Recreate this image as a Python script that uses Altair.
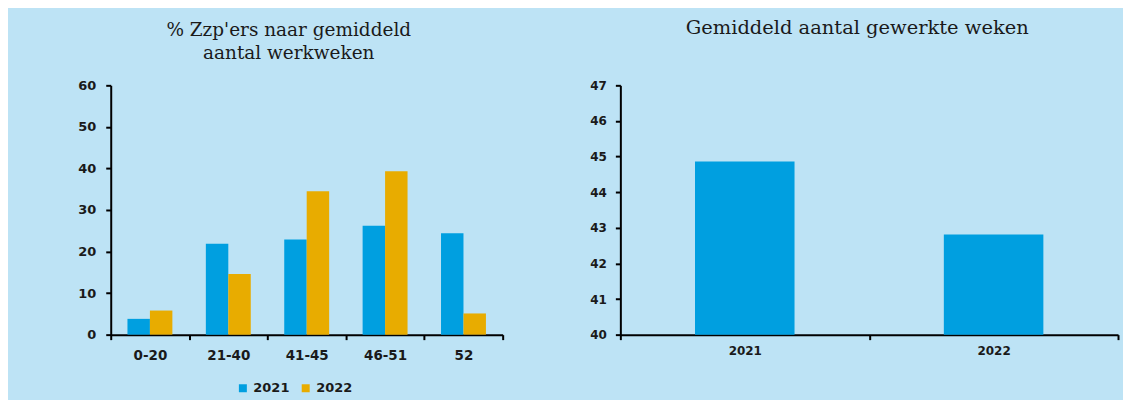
import altair as alt
import pandas as pd

categories = ["0-20", "21-40", "41-45", "46-51", "52"]
years = ["2021", "2022"]
pct_2021 = [3.8, 21.9, 22.9, 26.2, 24.4]
pct_2022 = [5.8, 14.6, 34.5, 39.3, 5.1]
avg_years = ["2021", "2022"]
avg_weeks = [44.86, 42.81]
left_ticks = [0, 10, 20, 30, 40, 50, 60]
right_ticks = [40, 41, 42, 43, 44, 45, 46, 47]

BG = "#BDE3F5"
BLUE = "#009FE0"
ORANGE = "#E8AC00"
TXT = "#1a1a1a"

rows = []
for c, a, b in zip(categories, pct_2021, pct_2022):
    rows.append({"cat": c, "jaar": years[0], "pct": a})
    rows.append({"cat": c, "jaar": years[1], "pct": b})
df1 = pd.DataFrame(rows)
df2 = pd.DataFrame({"jaar": avg_years, "weken": avg_weeks})

axis_common = dict(
    title=None, domainColor="black", domainWidth=2, tickColor="black",
    tickWidth=2, tickSize=5, labelColor=TXT, labelFont="DejaVu Sans",
    grid=False,
)

left = alt.Chart(df1).mark_bar().encode(
    x=alt.X("cat:N", sort=categories,
            scale=alt.Scale(paddingInner=0, paddingOuter=0),
            axis=alt.Axis(labelAngle=0, tickBand="extent", labelFontSize=13.5,
                          labelFontWeight=600, labelPadding=9, **axis_common)),
    xOffset=alt.XOffset("jaar:N", sort=years,
                        scale=alt.Scale(paddingInner=0, paddingOuter=0.745)),
    y=alt.Y("pct:Q", scale=alt.Scale(domain=[0, 60], nice=False),
            axis=alt.Axis(values=left_ticks, labelFontSize=13, labelFontWeight=600,
                          labelPadding=10, **axis_common)),
    color=alt.Color("jaar:N", sort=years,
                    scale=alt.Scale(domain=years, range=[BLUE, ORANGE]),
                    legend=alt.Legend(title=None, orient="none", legendX=126, legendY=297,
                                      direction="horizontal", symbolType="square",
                                      symbolSize=64, symbolStrokeWidth=0,
                                      labelFontSize=13, labelFont="DejaVu Sans",
                                      labelFontWeight=600, labelColor=TXT,
                                      labelOffset=4, columnPadding=9, padding=0)),
).properties(
    width=393, height=250,
    title=alt.TitleParams(["% Zzp'ers naar gemiddeld", "aantal werkweken"],
                          offset=17, lineHeight=23, dx=-18),
)

right = alt.Chart(df2).mark_bar(color=BLUE, width=alt.RelativeBandSize(0.4)).encode(
    x=alt.X("jaar:N", sort=avg_years,
            scale=alt.Scale(paddingInner=0, paddingOuter=0),
            axis=alt.Axis(labelAngle=0, tickBand="extent", labelFontSize=12,
                          labelFontWeight="bold", labelPadding=6, **axis_common)),
    y=alt.Y("weken:Q", scale=alt.Scale(domain=[40, 47], nice=False, zero=False),
            axis=alt.Axis(values=right_ticks, labelFontSize=12, labelFontWeight=600,
                          labelPadding=9, **axis_common)),
    y2=alt.datum(40),
).properties(
    width=499, height=250,
    title=alt.TitleParams("Gemiddeld aantal gewerkte weken", offset=41, fontSize=19.5,
                          dx=-12),
)

chart = alt.hconcat(left, right, spacing=86).properties(
    background=BG,
    padding={"left": 69, "top": 9, "right": 4, "bottom": 4},
).configure_view(stroke=None).configure_title(
    font="DejaVu Serif", fontSize=18.5, fontWeight="normal", color=TXT, anchor="middle",
)

chart.save("out.html", embed_options={"renderer": "svg", "actions": False})
